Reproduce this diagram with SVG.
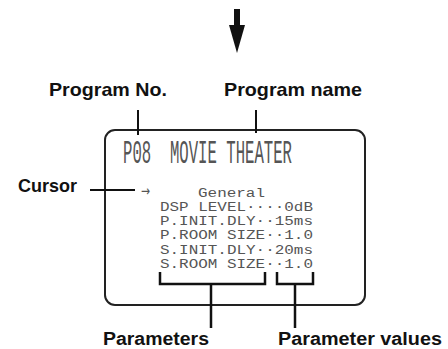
<svg xmlns="http://www.w3.org/2000/svg" width="448" height="349" viewBox="0 0 448 349">
<style>
.lbl{font-family:"Liberation Sans",Arial,sans-serif;font-weight:bold;font-size:18.5px;fill:#111}
.lcd{font-family:"Liberation Mono","DejaVu Sans Mono",monospace;font-size:12.5px;fill:#555;white-space:pre}
.ln{stroke:#111;stroke-width:2;fill:none}
.br{stroke:#111;stroke-width:2.5;fill:none}
</style>
<rect width="448" height="349" fill="#fff"/>
<g id="top-arrow">
<rect x="234" y="9" width="6" height="17" fill="#111"/>
<polygon points="229,25 245,25 237,53" fill="#111"/>
</g>
<g id="screen">
<rect x="105" y="130" width="260" height="175" rx="10" ry="10" fill="none" stroke="#222" stroke-width="2"/>
<text font-family="Liberation Mono,DejaVu Sans Mono,monospace" font-size="16" fill="#555" xml:space="preserve" transform="translate(123,163) scale(1,2.05)" textLength="169" lengthAdjust="spacingAndGlyphs">P08  MOVIE THEATER</text>
<text x="141" y="196" font-family="DejaVu Sans,sans-serif" font-size="15" fill="#555" textLength="9" lengthAdjust="spacingAndGlyphs">→</text>
<text class="lcd" x="198" y="197" textLength="67" lengthAdjust="spacingAndGlyphs">General</text>
<text class="lcd" x="160" y="211" textLength="153" lengthAdjust="spacingAndGlyphs">DSP LEVEL····0dB</text>
<text class="lcd" x="160" y="225" textLength="153" lengthAdjust="spacingAndGlyphs">P.INIT.DLY··15ms</text>
<text class="lcd" x="160" y="239" textLength="153" lengthAdjust="spacingAndGlyphs">P.ROOM SIZE··1.0</text>
<text class="lcd" x="160" y="253.5" textLength="153" lengthAdjust="spacingAndGlyphs">S.INIT.DLY··20ms</text>
<text class="lcd" x="160" y="267.5" textLength="153" lengthAdjust="spacingAndGlyphs">S.ROOM SIZE··1.0</text>
</g>
<g id="program-no">
<text class="lbl" x="49" y="96" textLength="118" lengthAdjust="spacingAndGlyphs">Program No.</text>
</g>
<g id="program-name">
<text class="lbl" x="224" y="96" textLength="138" lengthAdjust="spacingAndGlyphs">Program name</text>
</g>
<g id="cursor">
<text class="lbl" x="18" y="192" textLength="59" lengthAdjust="spacingAndGlyphs">Cursor</text>
</g>
<g id="parameters">
<text class="lbl" x="103" y="344.5" textLength="106" lengthAdjust="spacingAndGlyphs" style="font-size:17.5px">Parameters</text>
</g>
<g id="parameter-values">
<text class="lbl" x="278" y="344.5" textLength="164" lengthAdjust="spacingAndGlyphs" style="font-size:17.5px">Parameter values</text>
</g>
<g id="connectors">
<line class="ln" x1="138" y1="110" x2="138" y2="135"/>
<line class="ln" x1="256" y1="110" x2="256" y2="133"/>
<line class="ln" x1="90" y1="190" x2="135" y2="190"/>
<polyline class="br" points="160,272 160,284 265,284 265,272"/>
<line class="br" x1="211" y1="284" x2="211" y2="328"/>
<polyline class="br" points="277,272 277,284 313,284 313,272"/>
<line class="br" x1="295" y1="284" x2="295" y2="328"/>
</g>
</svg>
